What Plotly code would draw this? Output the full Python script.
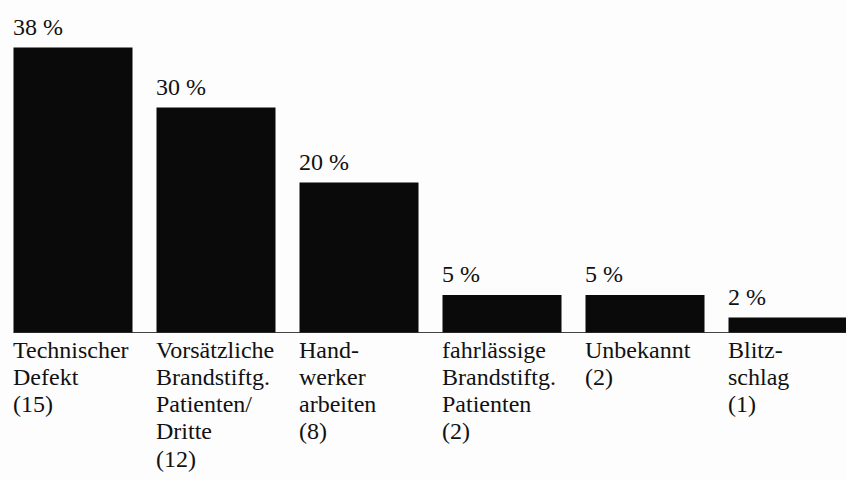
import plotly.graph_objects as go

categories = [
    ["Technischer", "Defekt", "(15)"],
    ["Vorsätzliche", "Brandstiftg.", "Patienten/", "Dritte", "(12)"],
    ["Hand-", "werker", "arbeiten", "(8)"],
    ["fahrlässige", "Brandstiftg.", "Patienten", "(2)"],
    ["Unbekannt", "(2)"],
    ["Blitz-", "schlag", "(1)"],
]
percent = [38, 30, 20, 5, 5, 2]
value_labels = ["38 %", "30 %", "20 %", "5 %", "5 %", "2 %"]

W, H = 846, 480
px_per_cat = 143.0
first_center = 73.0
bar_w = 119.0 / px_per_cat
baseline_px = 332.5
px_per_pct = 7.5

x0 = -first_center / px_per_cat
xr = [x0, x0 + W / px_per_cat]
yr = [-(H - baseline_px) / px_per_pct, baseline_px / px_per_pct]

xs = list(range(len(percent)))
FONT = "Liberation Serif"
fs = 24
line_h = 27.3

fig = go.Figure()
fig.add_trace(go.Bar(x=xs, y=percent, width=bar_w,
                     marker=dict(color="#0a0a0a", line=dict(width=0)),
                     hoverinfo="skip"))

ann = []
for i, (lines, v, lab) in enumerate(zip(categories, percent, value_labels)):
    left = i - bar_w / 2
    ann.append(dict(x=left, y=v, xref="x", yref="y", text=lab, showarrow=False,
                    xanchor="left", yanchor="bottom", yshift=6, xshift=-3,
                    font=dict(family=FONT, size=fs, color="#111")))
    for k, t in enumerate(lines):
        ann.append(dict(x=left, y=0, xref="x", yref="y", text=t, showarrow=False,
                        xanchor="left", yanchor="top", yshift=-2 - k * line_h, xshift=-3,
                        font=dict(family=FONT, size=fs, color="#111")))

fig.add_shape(type="line", xref="x", yref="y", x0=-bar_w / 2, x1=xr[1], y0=0, y1=0,
              line=dict(color="#444", width=1), layer="below")

fig.update_layout(
    width=W, height=H,
    margin=dict(l=0, r=0, t=0, b=0),
    paper_bgcolor="#fdfdfd", plot_bgcolor="#fdfdfd",
    showlegend=False,
    font=dict(family=FONT),
    annotations=ann,
    xaxis=dict(range=xr, visible=False, fixedrange=True),
    yaxis=dict(range=yr, visible=False, fixedrange=True),
)
fig.write_html("out.html", config={"displayModeBar": False},
               post_script="document.body.style.margin='0';document.body.style.overflow='hidden';")
